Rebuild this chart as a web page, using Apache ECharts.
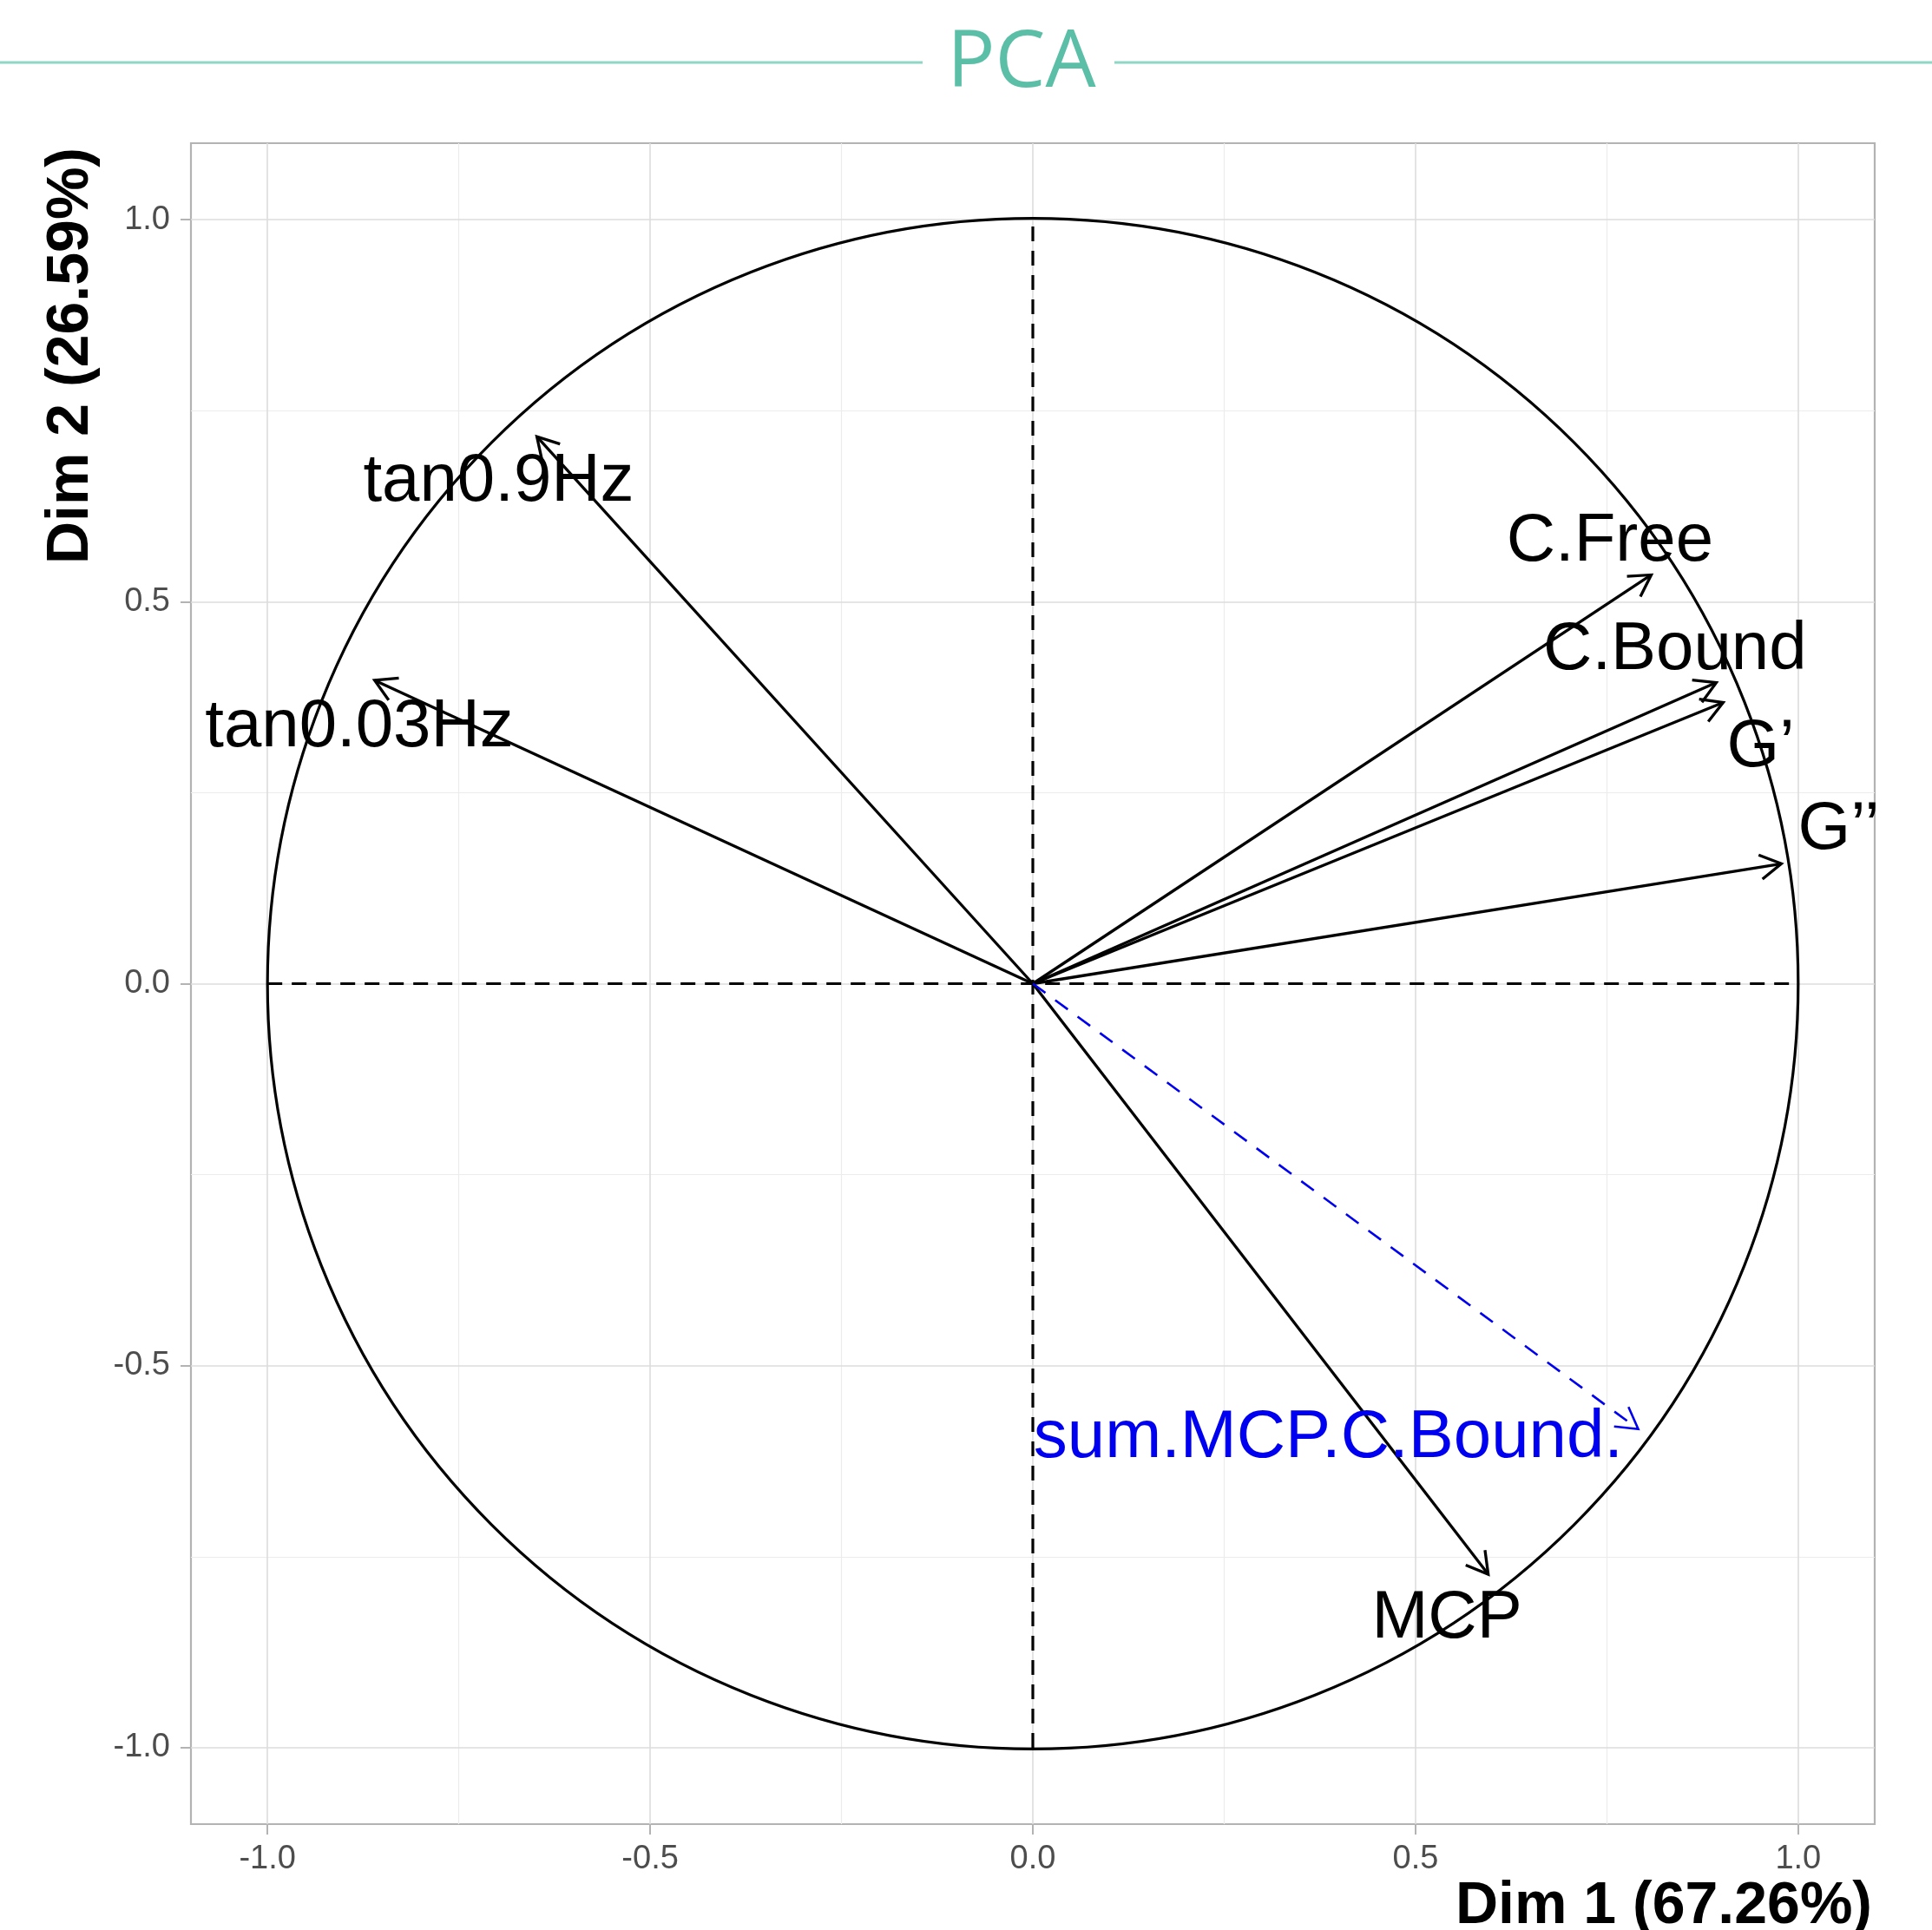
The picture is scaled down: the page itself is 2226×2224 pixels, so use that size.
<!DOCTYPE html>
<html>
<head>
<meta charset="utf-8">
<script src="https://cdn.jsdelivr.net/npm/echarts@6/dist/echarts.min.js"></script>
<style>
html,body{margin:0;padding:0;background:#fff;}
#chart{width:2226px;height:2224px;}
</style>
</head>
<body>
<div id="chart"></div>
<script>
// ---- data ----
const tickValues = [-1, -0.5, 0, 0.5, 1];
const minorValues = [-0.75, -0.25, 0.25, 0.75];

const varNames = ['tan0.9Hz', 'tan0.03Hz', 'C.Free', 'C.Bound', 'G\u2019', 'G\u2019\u2019', 'MCP'];
const dim1 = [-0.648, -0.860, 0.808, 0.893, 0.902, 0.978, 0.595];
const dim2 = [0.716, 0.397, 0.535, 0.394, 0.368, 0.157, -0.773];
const labelDim1 = [-0.698, -0.880, 0.754, 0.839, 0.951, 1.053, 0.541];
const labelDim2 = [0.663, 0.342, 0.585, 0.443, 0.316, 0.208, -0.824];

const supNames = ['sum.MCP.C.Bound.'];
const supDim1 = [0.791];
const supDim2 = [-0.583];
const supLabelDim1 = [0.386];
const supLabelDim2 = [-0.588];

const circleData = [[0, 0, 1]];
const refLines = [[-1, 0, 1, 0], [0, -1, 0, 1]];

const xTitle = 'Dim 1 (67.26%)';
const yTitle = 'Dim 2 (26.59%)';
const chartTitle = 'PCA';

// ---- chart ----
const chart = echarts.init(document.getElementById('chart'));
const labelFont = 'Liberation Sans, Arial, sans-serif';

function arrowItem(color, dash, width) {
  return function (params, api) {
    const p0 = api.coord([api.value(0), api.value(1)]);
    const p1 = api.coord([api.value(2), api.value(3)]);
    const ang = Math.atan2(p1[1] - p0[1], p1[0] - p0[0]);
    const L = 28, a = Math.PI / 6;
    const h1 = [p1[0] - L * Math.cos(ang - a), p1[1] - L * Math.sin(ang - a)];
    const h2 = [p1[0] - L * Math.cos(ang + a), p1[1] - L * Math.sin(ang + a)];
    const st = { stroke: color, lineWidth: width, fill: 'none', lineDash: dash };
    return {
      type: 'group',
      children: [
        { type: 'line', shape: { x1: p0[0], y1: p0[1], x2: p1[0], y2: p1[1] }, style: st },
        { type: 'polyline', shape: { points: [h1, p1, h2] }, style: Object.assign({}, st, { lineDash: null }) }
      ]
    };
  };
}

function textItem(names, color) {
  return function (params, api) {
    const p = api.coord([api.value(0), api.value(1)]);
    return {
      type: 'text',
      x: p[0], y: p[1] + 6,
      style: {
        text: names[params.dataIndex],
        font: '78px ' + labelFont,
        fill: color,
        align: 'center',
        verticalAlign: 'middle'
      }
    };
  };
}

const axisCommon = {
  type: 'value',
  min: -1.1,
  max: 1.1,
  axisLine: { show: false, onZero: false },
  axisTick: {
    show: true, length: 12, customValues: tickValues,
    lineStyle: { color: '#b3b3b3', width: 2 }
  },
  axisLabel: {
    customValues: tickValues,
    formatter: v => Number(v).toFixed(1),
    color: '#4d4d4d',
    fontSize: 38,
    fontFamily: labelFont
  },
  splitLine: { show: false }
};

const gridMarks = [];
minorValues.forEach(v => { gridMarks.push({ xAxis: v, lineStyle: { color: '#ececec', width: 1.2 } }); gridMarks.push({ yAxis: v, lineStyle: { color: '#ececec', width: 1.2 } }); });
tickValues.forEach(v => { gridMarks.push({ xAxis: v, lineStyle: { color: '#dcdcdc', width: 1.6 } }); gridMarks.push({ yAxis: v, lineStyle: { color: '#dcdcdc', width: 1.6 } }); });

const option = {
  animation: false,
  backgroundColor: '#ffffff',
  grid: {
    left: 220, top: 165, right: 66, bottom: 122,
    show: true, borderColor: '#b3b3b3', borderWidth: 2.2, backgroundColor: 'transparent'
  },
  xAxis: Object.assign({}, axisCommon, { axisLabel: Object.assign({}, axisCommon.axisLabel, { margin: 22 }) }),
  yAxis: Object.assign({}, axisCommon, { axisLabel: Object.assign({}, axisCommon.axisLabel, { margin: 24 }) }),
  graphic: [
    { type: 'line', shape: { x1: 0, y1: 72, x2: 1063, y2: 72 }, style: { stroke: '#8fd6c5', lineWidth: 3 } },
    { type: 'line', shape: { x1: 1284, y1: 72, x2: 2226, y2: 72 }, style: { stroke: '#8fd6c5', lineWidth: 3 } },
    { type: 'text', x: 1177, y: 74, style: { text: chartTitle, font: '92px "Open Sans", sans-serif', fill: '#5bbfa8', align: 'center', verticalAlign: 'middle' } },
    { type: 'text', x: 2157, y: 2197, style: { text: xTitle, font: 'bold 68px ' + labelFont, fill: '#000', align: 'right', verticalAlign: 'middle' } },
    { type: 'text', x: 82, y: 410, rotation: Math.PI / 2, style: { text: yTitle, font: 'bold 68px ' + labelFont, fill: '#000', align: 'center', verticalAlign: 'middle' } }
  ],
  series: [
    {
      type: 'scatter', data: [], z: 1, silent: true,
      markLine: { silent: true, symbol: ['none', 'none'], label: { show: false }, z: 1, animation: false, data: gridMarks, lineStyle: { type: 'solid' } }
    },
    {
      type: 'custom', z: 3, silent: true, data: circleData,
      renderItem: function (params, api) {
        const c = api.coord([api.value(0), api.value(1)]);
        const r = api.size([api.value(2), 0])[0];
        return { type: 'circle', shape: { cx: c[0], cy: c[1], r: r }, style: { fill: 'none', stroke: '#000', lineWidth: 3.2 } };
      }
    },
    {
      type: 'custom', z: 3, silent: true, data: refLines,
      renderItem: function (params, api) {
        const a = api.coord([api.value(0), api.value(1)]);
        const b = api.coord([api.value(2), api.value(3)]);
        return { type: 'line', shape: { x1: a[0], y1: a[1], x2: b[0], y2: b[1] }, style: { stroke: '#000', lineWidth: 3.2, lineDash: [17, 11] } };
      }
    },
    {
      type: 'custom', z: 4, silent: true,
      data: dim1.map((x, i) => [0, 0, x, dim2[i]]),
      renderItem: arrowItem('#000', null, 3.3)
    },
    {
      type: 'custom', z: 4, silent: true,
      data: supDim1.map((x, i) => [0, 0, x, supDim2[i]]),
      renderItem: arrowItem('#0000f0', [18, 14], 2.6)
    },
    {
      type: 'custom', z: 5, silent: true,
      data: labelDim1.map((x, i) => [x, labelDim2[i]]),
      renderItem: textItem(varNames, '#000')
    },
    {
      type: 'custom', z: 5, silent: true,
      data: supLabelDim1.map((x, i) => [x, supLabelDim2[i]]),
      renderItem: textItem(supNames, '#0000f0')
    }
  ]
};
chart.setOption(option);
</script>
</body>
</html>
